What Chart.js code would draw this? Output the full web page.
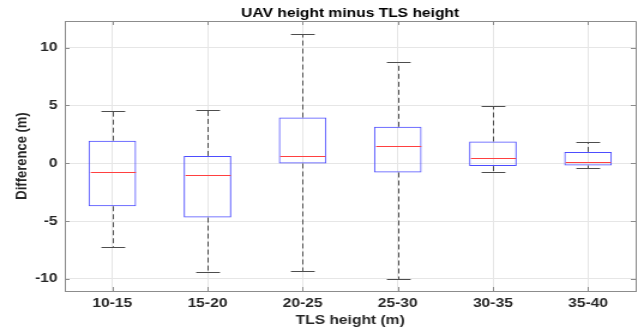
<!DOCTYPE html>
<html>
<head>
<meta charset="utf-8">
<script src="https://cdn.jsdelivr.net/npm/chart.js@4.4.1/dist/chart.umd.min.js"></script>
<style>
  html, body { margin: 0; padding: 0; background: #fff; overflow: hidden; }
  /* the source figure is stretched sideways, so the chart is drawn narrow and widened */
  #wrap { width: 537px; height: 331px; transform: scaleX(1.19925); transform-origin: 0 0; }
</style>
</head>
<body>
<div id="wrap"><canvas id="boxChart"></canvas></div>
<script>
// box plot numbers (metres)
const categories = ['10-15', '15-20', '20-25', '25-30', '30-35', '35-40'];
const upperWhisker = [4.5, 4.6, 11.2, 8.75, 4.95, 1.8];
const q3 = [1.95, 0.63, 3.95, 3.15, 1.88, 0.98];
const median = [-0.8, -0.98, 0.6, 1.5, 0.49, 0.08];
const q1 = [-3.72, -4.7, -0.02, -0.8, -0.25, -0.2];
const lowerWhisker = [-7.25, -9.45, -9.3, -10, -0.8, -0.42];
const yTicks = [-10, -5, 0, 5, 10];

const chartTitle = 'UAV height minus TLS height';
const fontFamily = '"Liberation Sans", Arial, Helvetica, sans-serif';

Chart.defaults.font.family = fontFamily;

const snap = v => Math.round(v) + 0.5;

// whiskers, caps, medians, the box outline and inner tick marks
const boxExtras = {
  id: 'boxExtras',
  afterDatasetsDraw(chart) {
    const ctx = chart.ctx;
    const x = chart.scales.x;
    const y = chart.scales.y;
    const area = chart.chartArea;
    const step = x.getPixelForValue(1) - x.getPixelForValue(0);
    const capHalf = step * 0.125;
    const boxHalf = step * 0.25;

    ctx.save();
    categories.forEach((c, i) => {
      const cx = snap(x.getPixelForValue(i));
      const yUp = snap(y.getPixelForValue(upperWhisker[i]));
      const yLo = snap(y.getPixelForValue(lowerWhisker[i]));
      // dashed whiskers
      ctx.strokeStyle = '#4d4d4d';
      ctx.lineWidth = 1;
      ctx.setLineDash([5, 3]);
      ctx.beginPath();
      ctx.moveTo(cx, y.getPixelForValue(q3[i]));
      ctx.lineTo(cx, yUp);
      ctx.moveTo(cx, y.getPixelForValue(q1[i]));
      ctx.lineTo(cx, yLo);
      ctx.stroke();
      // caps
      ctx.setLineDash([]);
      ctx.beginPath();
      ctx.moveTo(cx - capHalf, yUp);
      ctx.lineTo(cx + capHalf, yUp);
      ctx.moveTo(cx - capHalf, yLo);
      ctx.lineTo(cx + capHalf, yLo);
      ctx.stroke();
      // median
      const yMed = snap(y.getPixelForValue(median[i]));
      ctx.strokeStyle = '#ff4040';
      ctx.beginPath();
      ctx.moveTo(cx - boxHalf + 1, yMed);
      ctx.lineTo(cx + boxHalf - 1, yMed);
      ctx.stroke();
    });

    // top and right edges of the axes box
    ctx.strokeStyle = '#8c8c8c';
    ctx.lineWidth = 1;
    ctx.beginPath();
    ctx.moveTo(area.left, area.top + 0.5);
    ctx.lineTo(area.right + 0.5, area.top + 0.5);
    ctx.lineTo(area.right + 0.5, area.bottom);
    ctx.stroke();

    // inward tick marks on all four sides
    ctx.beginPath();
    categories.forEach((c, i) => {
      const px = snap(x.getPixelForValue(i));
      ctx.moveTo(px, area.top);
      ctx.lineTo(px, area.top + 4);
      ctx.moveTo(px, area.bottom);
      ctx.lineTo(px, area.bottom - 4);
    });
    yTicks.forEach(v => {
      const py = snap(y.getPixelForValue(v));
      ctx.moveTo(area.left, py);
      ctx.lineTo(area.left + 4, py);
      ctx.moveTo(area.right, py);
      ctx.lineTo(area.right - 4, py);
    });
    ctx.stroke();

    // title centred over the plot area
    ctx.fillStyle = '#000';
    ctx.font = 'bold 13px ' + fontFamily;
    ctx.textAlign = 'center';
    ctx.textBaseline = 'alphabetic';
    ctx.fillText(chartTitle, (area.left + area.right) / 2, 16.6);
    ctx.restore();
  }
};

const ctx = document.getElementById('boxChart').getContext('2d');
const boxChart = new Chart(ctx, {
  type: 'bar',
  data: {
    labels: categories,
    datasets: [{
      label: 'IQR',
      data: q1.map((v, i) => [v, q3[i]]),
      backgroundColor: 'rgba(0,0,0,0)',
      borderColor: '#4d4dff',
      borderWidth: 1,
      borderSkipped: false,
      categoryPercentage: 1,
      barPercentage: 0.5
    }]
  },
  plugins: [boxExtras],
  options: {
    responsive: true,
    maintainAspectRatio: false,
    animation: false,
    layout: { padding: { top: 21, right: 7, bottom: 0, left: 0 } },
    plugins: {
      legend: { display: false },
      tooltip: { enabled: false },
      title: { display: false }
    },
    scales: {
      x: {
        offset: true,
        grid: { offset: false, color: '#e6e6e6', drawTicks: false },
        border: { color: '#8c8c8c' },
        ticks: {
          padding: 5,
          color: '#262626',
          font: { size: 13, weight: 'bold' },
          maxRotation: 0
        },
        title: {
          display: true,
          text: 'TLS height (m)',
          color: '#262626',
          font: { size: 13, weight: 'bold' },
          padding: { top: 0, bottom: 3 }
        },
        afterFit: s => { s.height = 40; }
      },
      y: {
        min: -11.05,
        max: 12.3,
        afterBuildTicks: s => { s.ticks = yTicks.map(v => ({ value: v })); },
        grid: { color: '#e6e6e6', drawTicks: false },
        border: { color: '#8c8c8c' },
        ticks: {
          padding: 6,
          color: '#262626',
          font: { size: 13, weight: 'bold' }
        },
        title: {
          display: true,
          text: 'Difference (m)',
          color: '#262626',
          font: { size: 13, weight: 'bold' },
          padding: { top: 10.5, bottom: 0 }
        },
        afterFit: s => { s.width = 54; }
      }
    }
  }
});
</script>
</body>
</html>
